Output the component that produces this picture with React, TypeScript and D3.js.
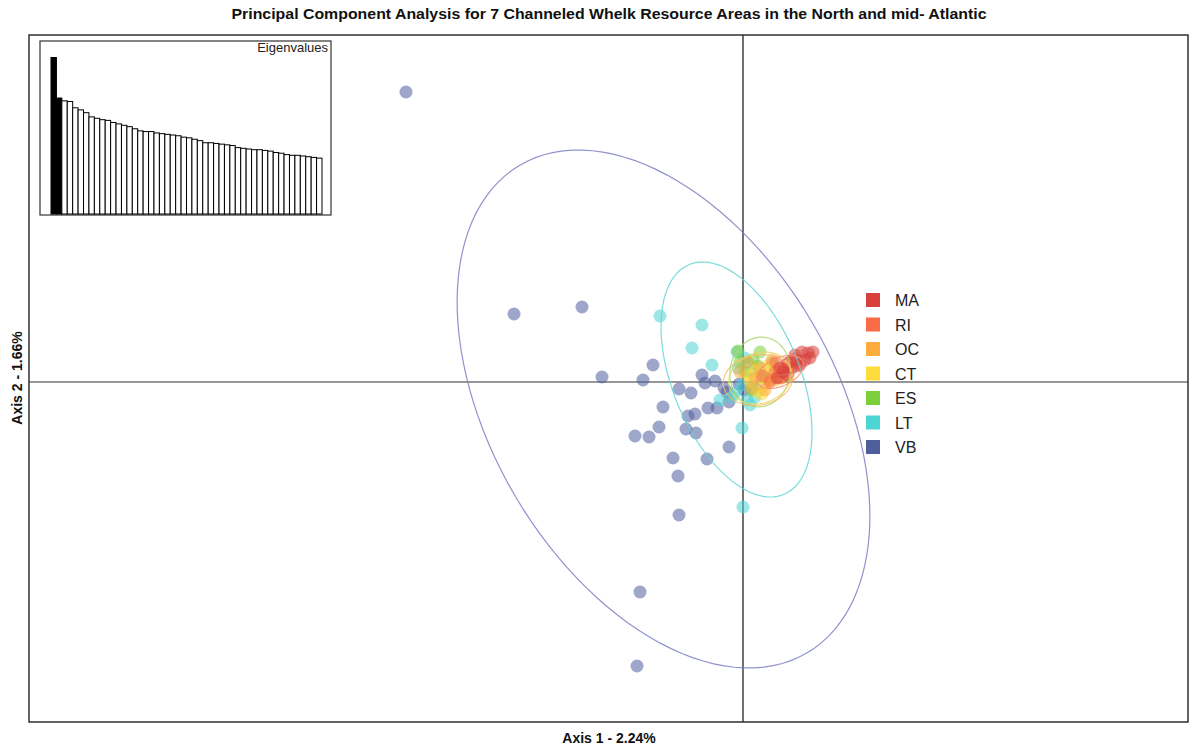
import React from "react";
import * as d3 from "d3";

// Group labels and colours (legend order)
const groups = ["MA", "RI", "OC", "CT", "ES", "LT", "VB"];
const groupColors = ["#d7403c", "#fb6b45", "#fdab3d", "#fedc3c", "#7ccf3a", "#4dd4d4", "#4e5d9c"];
// Ellipse outline colours per group
const ellipseColors = ["#e06a5f", "#fb8c6a", "#fdbc6a", "#e8d860", "#a6d86e", "#62d6d6", "#7d7fc4"];

// Individual PCA scores per resource area [axis1, axis2]
const scoresVB: [number, number][] = [
  [-3.37, 2.9], [-2.29, 0.68], [-1.61, 0.75], [-1.41, 0.05], [-1.0, 0.02], [-0.9, 0.17],
  [-0.64, -0.07], [-0.52, -0.11], [-0.41, 0.07], [-0.38, -0.01], [-0.28, 0.01], [-0.19, -0.06],
  [-0.16, -0.1], [-0.14, -0.2], [-0.8, -0.25], [-0.55, -0.34], [-0.48, -0.32], [-0.35, -0.26],
  [-0.26, -0.26], [-0.84, -0.45], [-0.57, -0.47], [-0.47, -0.51], [-1.08, -0.54], [-0.94, -0.55],
  [-0.14, -0.65], [-0.7, -0.76], [-0.36, -0.77], [-0.65, -0.94], [-0.64, -1.33], [-1.03, -2.1],
  [-1.06, -2.84], [-0.04, -0.02], [0.01, -0.08],
];
const scoresLT: [number, number][] = [
  [-0.83, 0.66], [-0.41, 0.57], [-0.51, 0.34], [-0.31, 0.17], [-0.06, 0.3], [-0.05, 0.14],
  [0.05, 0.19], [0.07, 0.1], [-0.01, -0.03], [0.09, -0.06], [0.14, -0.03], [0.12, -0.15],
  [0.04, -0.18], [-0.11, -0.15], [-0.23, -0.18], [-0.08, -0.11], [0.07, -0.23], [-0.01, -0.46],
  [0.0, -1.25], [0.17, 0.06], [0.02, 0.24],
];
const scoresES: [number, number][] = [
  [-0.05, 0.31], [0.17, 0.3], [0.1, 0.22], [0.29, 0.19], [0.02, 0.1], [0.23, 0.04],
  [0.15, 0.16], [-0.03, 0.2], [0.37, 0.1], [0.09, -0.08],
];
const scoresCT: [number, number][] = [
  [0.17, 0.04], [0.12, 0.12], [0.22, -0.03], [0.07, 0.0], [0.27, 0.1], [0.15, -0.1],
  [0.32, 0.02], [0.05, 0.07], [0.25, 0.16], [0.19, -0.12],
];
const scoresOC: [number, number][] = [
  [0.04, 0.2], [0.17, 0.14], [0.27, 0.02], [0.12, 0.04], [0.35, 0.12], [0.22, -0.08],
  [0.39, 0.04], [0.09, -0.06], [0.29, 0.22], [-0.03, 0.1], [0.45, 0.14],
];
const scoresRI: [number, number][] = [
  [0.32, 0.1], [0.42, 0.14], [0.37, 0.04], [0.49, 0.2], [0.45, 0.07], [0.27, 0.0],
  [0.55, 0.16], [0.33, 0.2], [0.2, 0.06],
];
const scoresMA: [number, number][] = [
  [0.59, 0.3], [0.65, 0.29], [0.7, 0.3], [0.54, 0.22], [0.45, 0.19], [0.37, 0.14],
  [0.44, 0.07], [0.34, 0.04], [0.62, 0.22], [0.52, 0.27], [0.49, 0.14], [0.67, 0.24],
  [0.57, 0.17], [0.4, 0.1],
];

// Inertia ellipses per group: [centre x, centre y, semi-major, semi-minor, angle deg]
const ellipseVB = [-0.795, -0.27, 2.83, 1.72, -59.5];
const ellipseLT = [-0.065, 0.025, 1.243, 0.637, -67.7];
const ellipseES = [0.17, 0.1, 0.35, 0.3, 80];
const ellipseCT = [0.17, 0.04, 0.32, 0.25, 20];
const ellipseOC = [0.15, 0.02, 0.35, 0.25, 10];
const ellipseRI = [0.37, 0.1, 0.25, 0.14, 25];
const ellipseMA = [0.52, 0.2, 0.22, 0.08, 30];

// Eigenvalues (percent of inertia); first two axes kept
const eigenvalues = [
  2.24, 1.66, 1.62, 1.61, 1.52, 1.49, 1.45, 1.39, 1.37, 1.35, 1.34, 1.31, 1.29, 1.27, 1.25,
  1.22, 1.19, 1.18, 1.18, 1.16, 1.15, 1.14, 1.13, 1.12, 1.1, 1.09, 1.07, 1.05, 1.02, 1.02,
  1.01, 1.0, 0.99, 0.98, 0.95, 0.94, 0.93, 0.92, 0.92, 0.91, 0.9, 0.88, 0.87, 0.85, 0.84,
  0.84, 0.83, 0.82, 0.81, 0.8,
];
const axesKept = 2;

const titleText = "Principal Component Analysis for 7 Channeled Whelk Resource Areas in the North and mid- Atlantic";
const xLabel = "Axis 1 - 2.24%";
const yLabel = "Axis 2 - 1.66%";

const W = 1189;
const H = 749;
const frame = { left: 29, top: 35, right: 1188, bottom: 722 };

// Draw order: back to front
const layers = [
  { key: "VB", pts: scoresVB, ell: ellipseVB },
  { key: "LT", pts: scoresLT, ell: ellipseLT },
  { key: "ES", pts: scoresES, ell: ellipseES },
  { key: "CT", pts: scoresCT, ell: ellipseCT },
  { key: "OC", pts: scoresOC, ell: ellipseOC },
  { key: "RI", pts: scoresRI, ell: ellipseRI },
  { key: "MA", pts: scoresMA, ell: ellipseMA },
];

export default function App() {
  const x = d3.scaleLinear().domain([-7.14, 4.45]).range([frame.left, frame.right]);
  const y = d3.scaleLinear().domain([-3.4, 3.47]).range([frame.bottom, frame.top]);
  const color = d3.scaleOrdinal<string, string>().domain(groups).range(groupColors);
  const ellColor = d3.scaleOrdinal<string, string>().domain(groups).range(ellipseColors);

  const ellipsePath = (e: number[]) => {
    const [cx, cy, a, b, ang] = e;
    const phi = (ang * Math.PI) / 180;
    const pts: [number, number][] = d3.range(0, 361, 3).map((deg) => {
      const t = (deg * Math.PI) / 180;
      const dx = a * Math.cos(t) * Math.cos(phi) - b * Math.sin(t) * Math.sin(phi);
      const dy = a * Math.cos(t) * Math.sin(phi) + b * Math.sin(t) * Math.cos(phi);
      return [x(cx + dx), y(cy + dy)];
    });
    return d3.line().curve(d3.curveLinearClosed)(pts) || "";
  };

  // Eigenvalue inset
  const inset = { left: 40, top: 41, right: 331, bottom: 215 };
  const ex = d3
    .scaleBand<number>()
    .domain(d3.range(eigenvalues.length))
    .range([51, 322])
    .padding(0);
  const ey = d3.scaleLinear().domain([0, 2.24]).range([214, 57.5]);

  const legendY = d3.scalePoint<string>().domain(groups).range([300, 447]);

  return (
    <svg
      width={W}
      height={H}
      style={{ position: "absolute", left: 0, top: 0, display: "block", background: "#fff" }}
      fontFamily="'Liberation Sans', Arial, sans-serif"
    >
      <rect x={0} y={0} width={W} height={H} fill="#fff" />
      <text
        x={609}
        y={19}
        textAnchor="middle"
        fontSize={14.5}
        fontWeight="bold"
        fill="#111"
        textLength={755}
        lengthAdjust="spacingAndGlyphs"
      >
        {titleText}
      </text>

      <defs>
        <clipPath id="plotClip">
          <rect x={frame.left} y={frame.top} width={frame.right - frame.left} height={frame.bottom - frame.top} />
        </clipPath>
      </defs>

      <g clipPath="url(#plotClip)">
        {/* origin lines */}
        <line x1={x(0)} x2={x(0)} y1={frame.top} y2={frame.bottom} stroke="#111" strokeWidth={1.2} />
        <line x1={frame.left} x2={frame.right} y1={y(0)} y2={y(0)} stroke="#333" strokeWidth={1.2} />

        {layers.map((l) => (
          <g key={l.key}>
            {l.pts.map((p, i) => (
              <circle
                key={i}
                cx={x(p[0])}
                cy={y(p[1])}
                r={6.5}
                fill={color(l.key)}
                fillOpacity={0.55}
              />
            ))}
          </g>
        ))}
        {layers.map((l) => (
          <path
            key={"e" + l.key}
            d={ellipsePath(l.ell)}
            fill="none"
            stroke={ellColor(l.key)}
            strokeOpacity={0.85}
            strokeWidth={1.2}
          />
        ))}
      </g>

      <rect
        x={frame.left}
        y={frame.top}
        width={frame.right - frame.left}
        height={frame.bottom - frame.top}
        fill="none"
        stroke="#222"
        strokeWidth={1.4}
      />

      {/* eigenvalue inset */}
      <rect
        x={inset.left}
        y={inset.top}
        width={inset.right - inset.left}
        height={inset.bottom - inset.top}
        fill="#fff"
        stroke="#333"
        strokeWidth={1.2}
      />
      {eigenvalues.map((v, i) => (
        <rect
          key={i}
          x={ex(i)}
          y={ey(v)}
          width={ex.bandwidth()}
          height={ey(0) - ey(v)}
          fill={i < axesKept ? "#000" : "#fff"}
          stroke="#000"
          strokeWidth={1}
        />
      ))}
      <text x={328} y={52} textAnchor="end" fontSize={13} fill="#222">
        Eigenvalues
      </text>

      {/* legend */}
      {groups.map((g) => (
        <g key={g}>
          <rect x={866} y={(legendY(g) || 0) - 7} width={14} height={14} fill={color(g)} />
          <text x={895} y={(legendY(g) || 0) + 6} fontSize={16} fill="#222">
            {g}
          </text>
        </g>
      ))}

      <text x={609} y={743} textAnchor="middle" fontSize={14} fontWeight="bold" fill="#111">
        {xLabel}
      </text>
      <text
        transform={`translate(22,${378}) rotate(-90)`}
        textAnchor="middle"
        fontSize={14}
        fontWeight="bold"
        fill="#111"
      >
        {yLabel}
      </text>
    </svg>
  );
}
